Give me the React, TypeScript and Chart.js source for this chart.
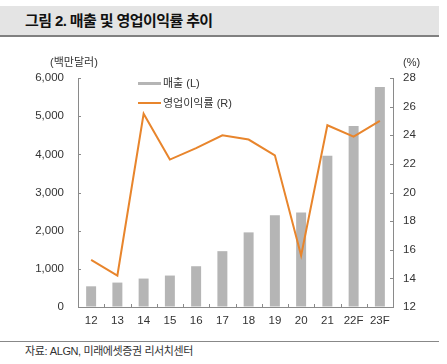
import React, { useEffect, useRef } from "react";
import { Chart, registerables } from "chart.js";

Chart.register(...registerables);

const categories = ["12", "13", "14", "15", "16", "17", "18", "19", "20", "21", "22F", "23F"];
const revenue = [542, 640, 745, 824, 1068, 1463, 1955, 2403, 2474, 3963, 4745, 5763];
const opMargin = [15.3, 14.2, 25.5, 22.3, 23.1, 24.0, 23.7, 22.6, 15.6, 24.7, 23.9, 25.0];
const seriesNames = ["매출 (L)", "영업이익률 (R)"];
const leftTitle = "(백만달러)";
const rightTitle = "(%)";
const titleText = "그림 2. 매출 및 영업이익률 추이";
const sourceText = "자료: ALGN, 미래에셋증권 리서치센터";

const FONT = '"Liberation Sans", "Noto Sans CJK KR", sans-serif';
const BAR_COLOR = "#b5b5b5";
const LINE_COLOR = "#e8852c";
const AXIS_COLOR = "#8a8a8a";
const TEXT_COLOR = "#333333";

const decorPlugin = {
  id: "decor",
  afterDraw(chart: any) {
    const ctx = chart.ctx;
    const area = chart.chartArea;
    const yL = chart.scales.y;
    const yR = chart.scales.y1;
    const x = chart.scales.x;
    ctx.save();
    ctx.strokeStyle = AXIS_COLOR;
    ctx.lineWidth = 1;
    // inward ticks
    yL.ticks.forEach((t: any) => {
      const py = Math.round(yL.getPixelForValue(t.value)) + 0.5;
      ctx.beginPath();
      ctx.moveTo(area.left, py);
      ctx.lineTo(area.left + 3, py);
      ctx.stroke();
    });
    yR.ticks.forEach((t: any) => {
      const py = Math.round(yR.getPixelForValue(t.value)) + 0.5;
      ctx.beginPath();
      ctx.moveTo(area.right, py);
      ctx.lineTo(area.right - 3, py);
      ctx.stroke();
    });
    const n = categories.length;
    for (let i = 0; i <= n; i++) {
      const px = Math.round(area.left + ((area.right - area.left) * i) / n) + 0.5;
      ctx.beginPath();
      ctx.moveTo(px, area.bottom);
      ctx.lineTo(px, area.bottom - 3);
      ctx.stroke();
    }
    // axis titles
    ctx.fillStyle = TEXT_COLOR;
    ctx.font = `11px ${FONT}`;
    ctx.textBaseline = "middle";
    ctx.textAlign = "left";
    ctx.fillText(leftTitle, 50, 63);
    ctx.fillText(rightTitle, 403, 63);
    // legend
    const ds = chart.data.datasets;
    ctx.fillStyle = ds[0].backgroundColor;
    ctx.fillRect(138, 82, 23, 3);
    ctx.strokeStyle = ds[1].borderColor;
    ctx.lineWidth = 2;
    ctx.beginPath();
    ctx.moveTo(138, 103);
    ctx.lineTo(161, 103);
    ctx.stroke();
    ctx.fillStyle = TEXT_COLOR;
    ctx.font = `11px ${FONT}`;
    ctx.fillText(ds[0].label, 163, 83.5);
    ctx.fillText(ds[1].label, 163, 103.5);
    ctx.restore();
  },
};

export default function App() {
  const ref = useRef<HTMLCanvasElement | null>(null);

  useEffect(() => {
    if (!ref.current) return;
    const chart = new Chart(ref.current, {
      type: "bar",
      data: {
        labels: categories,
        datasets: [
          {
            type: "bar",
            label: seriesNames[0],
            data: revenue,
            backgroundColor: BAR_COLOR,
            borderWidth: 0,
            barPercentage: 0.38,
            categoryPercentage: 1,
            yAxisID: "y",
            order: 2,
          } as any,
          {
            type: "line",
            label: seriesNames[1],
            data: opMargin,
            borderColor: LINE_COLOR,
            backgroundColor: LINE_COLOR,
            borderWidth: 2,
            pointRadius: 0,
            tension: 0,
            yAxisID: "y1",
            order: 1,
          } as any,
        ],
      },
      options: {
        animation: false,
        responsive: false,
        maintainAspectRatio: false,
        layout: { padding: { left: 0, right: 0, top: 78, bottom: 0 } },
        plugins: {
          legend: { display: false },
          tooltip: { enabled: false },
        },
        scales: {
          x: {
            grid: { display: true, drawOnChartArea: false, drawTicks: false },
            border: { display: true, color: AXIS_COLOR, width: 1 },
            ticks: { color: TEXT_COLOR, font: { family: FONT, size: 11.5 }, padding: 7, maxRotation: 0 },
            afterFit: (s: any) => {
              s.height = 28;
            },
          },
          y: {
            position: "left",
            min: 0,
            max: 6000,
            grid: { display: true, drawOnChartArea: false, drawTicks: false },
            border: { display: true, color: AXIS_COLOR, width: 1 },
            ticks: {
              stepSize: 1000,
              color: TEXT_COLOR,
              font: { family: FONT, size: 11.5 },
              padding: 14,
              callback: (v: any) => Number(v).toLocaleString("en-US"),
            },
            afterFit: (s: any) => {
              s.width = 78;
            },
          },
          y1: {
            position: "right",
            min: 12,
            max: 28,
            grid: { display: true, drawOnChartArea: false, drawTicks: false },
            border: { display: true, color: AXIS_COLOR, width: 1 },
            ticks: {
              stepSize: 2,
              color: TEXT_COLOR,
              font: { family: FONT, size: 11.5 },
              padding: 10,
            },
            afterFit: (s: any) => {
              s.width = 54;
            },
          },
        },
      },
      plugins: [decorPlugin],
    });
    return () => chart.destroy();
  }, []);

  return (
    <div style={{ position: "absolute", left: 0, top: 0, width: 447, height: 364, background: "#fff", overflow: "hidden" }}>
      <div
        style={{
          position: "absolute",
          left: 0,
          top: 6,
          width: 439,
          height: 29,
          background: "#e4e4e4",
          borderBottom: "2px solid #808080",
        }}
      >
        <div
          style={{
            position: "absolute",
            left: 25,
            top: 0,
            height: 29,
            lineHeight: "30px",
            fontFamily: FONT,
            fontWeight: "bold",
            fontSize: 15,
            letterSpacing: "-0.6px",
            color: "#111",
            whiteSpace: "nowrap",
          }}
        >
          {titleText}
        </div>
      </div>
      <canvas ref={ref} width={447} height={335} style={{ position: "absolute", left: 0, top: 0, width: 447, height: 335 }} />
      <div style={{ position: "absolute", left: 0, top: 341, width: 439, height: 1, background: "#888" }} />
      <div
        style={{
          position: "absolute",
          left: 25,
          top: 343,
          height: 16,
          lineHeight: "16px",
          fontFamily: FONT,
          fontSize: 11,
          letterSpacing: "-0.4px",
          color: TEXT_COLOR,
          whiteSpace: "nowrap",
        }}
      >
        {sourceText}
      </div>
    </div>
  );
}
